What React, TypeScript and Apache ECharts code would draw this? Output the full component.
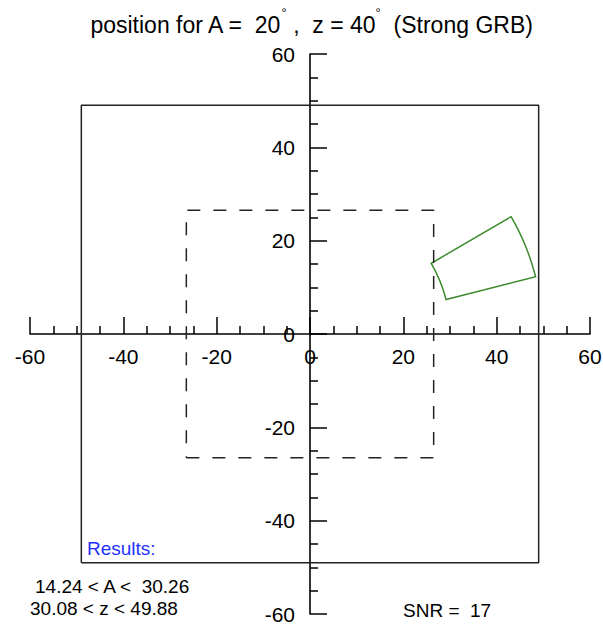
import React, { useEffect, useRef } from "react";
import * as echarts from "echarts";

// ---- data ----
const AXIS_TICKS = [-60, -40, -20, 0, 20, 40, 60];
const MINOR_PER_MAJOR = 4;
const OUTER_BOX: number[][] = [[-49, -49], [49, -49], [49, 49], [-49, 49], [-49, -49]];
const INNER_BOX: number[][] = [[-26.5, -26.5], [26.5, -26.5], [26.5, 26.5], [-26.5, 26.5], [-26.5, -26.5]];
const TRUE_A = 20;
const TRUE_Z = 40;
const A_RANGE = [14.24, 30.26];
const Z_RANGE = [30.08, 49.88];
const SNR = 17;

const FONT = "'Liberation Sans', Arial, Helvetica, sans-serif";
const GREEN = "#3d8b2e";
const BLUE = "#1f33ff";

const GRID_SIZE = 560;

export default function App() {
  const ref = useRef<HTMLDivElement>(null);
  useEffect(() => {
    if (!ref.current) return;
    const chart = echarts.init(ref.current, undefined, { renderer: "svg" });
    const tickMin = AXIS_TICKS[0];
    const tickMax = AXIS_TICKS[AXIS_TICKS.length - 1];
    const interval = AXIS_TICKS[1] - AXIS_TICKS[0];
    const axisCommon = {
      type: "value",
      min: tickMin,
      max: tickMax,
      interval,
      offset: -GRID_SIZE / 2,
      splitLine: { show: false },
      axisLine: { show: true, onZero: false, lineStyle: { color: "#000", width: 1.6 } },
      axisTick: { show: true, inside: true, length: 17, lineStyle: { color: "#000", width: 1.5 } },
      minorTick: { show: true, splitNumber: MINOR_PER_MAJOR, length: 8, lineStyle: { color: "#000", width: 1.5 } },
      minorSplitLine: { show: false },
    };
    chart.setOption({
      animation: false,
      grid: { left: 30, top: 54, width: GRID_SIZE, height: GRID_SIZE, containLabel: false, outerBoundsMode: "none" },
      xAxis: {
        ...axisCommon,
        position: "bottom",
        axisLabel: { show: true, color: "#000", fontSize: 21, fontFamily: FONT, margin: 12, showMinLabel: true, showMaxLabel: true, hideOverlap: false },
      },
      yAxis: {
        ...axisCommon,
        position: "left",
        axisLabel: { show: true, color: "#000", fontSize: 21, fontFamily: FONT, margin: 15, padding: [6, 0, 0, 0], showMinLabel: true, showMaxLabel: true, hideOverlap: false },
      },
      series: [
        {
          type: "line",
          data: OUTER_BOX,
          symbol: "none",
          silent: true,
          lineStyle: { color: "#222", width: 1.5 },
        },
        {
          type: "line",
          data: INNER_BOX,
          symbol: "none",
          silent: true,
          lineStyle: { color: "#222", width: 1.5, type: [13, 13] },
        },
        {
          type: "custom",
          silent: true,
          data: [[A_RANGE[0], A_RANGE[1], Z_RANGE[0], Z_RANGE[1]]],
          renderItem: (params: any, api: any) => {
            const c = api.coord([0, 0]);
            const r0 = api.size([api.value(2), 0])[0];
            const r = api.size([api.value(3), 0])[0];
            return {
              type: "sector",
              shape: {
                cx: c[0],
                cy: c[1],
                r0,
                r,
                startAngle: (-api.value(1) * Math.PI) / 180,
                endAngle: (-api.value(0) * Math.PI) / 180,
                clockwise: true,
              },
              style: { fill: "none", stroke: GREEN, lineWidth: 1.5 },
            };
          },
        },
      ],
      graphic: [
        {
          type: "text",
          x: 311,
          y: 25,
          style: {
            text: `position for A =  ${TRUE_A}{d|°} ,  z = ${TRUE_Z}{d|°}  (Strong GRB)`,
            fontSize: 23,
            lineHeight: 38,
            fontFamily: FONT,
            fill: "#000",
            align: "center",
            verticalAlign: "middle",
            rich: { d: { fontSize: 13, lineHeight: 13, verticalAlign: "top", fontFamily: FONT } },
          },
        },
        {
          type: "text",
          x: 87,
          y: 548,
          style: { text: "Results:", fontSize: 19, fontFamily: FONT, fill: BLUE, align: "left", verticalAlign: "middle" },
        },
        {
          type: "text",
          x: 35,
          y: 586,
          style: {
            text: `${A_RANGE[0].toFixed(2)} < A <  ${A_RANGE[1].toFixed(2)}`,
            fontSize: 19,
            fontFamily: FONT,
            fill: "#000",
            align: "left",
            verticalAlign: "middle",
          },
        },
        {
          type: "text",
          x: 30,
          y: 608,
          style: {
            text: `${Z_RANGE[0].toFixed(2)} < z < ${Z_RANGE[1].toFixed(2)}`,
            fontSize: 19,
            fontFamily: FONT,
            fill: "#000",
            align: "left",
            verticalAlign: "middle",
          },
        },
        {
          type: "text",
          x: 403,
          y: 610,
          style: { text: `SNR =  ${SNR}`, fontSize: 19, fontFamily: FONT, fill: "#000", align: "left", verticalAlign: "middle" },
        },
      ],
    });
    return () => chart.dispose();
  }, []);
  return <div ref={ref} style={{ position: "absolute", left: 0, top: 0, width: 603, height: 628 }} />;
}
